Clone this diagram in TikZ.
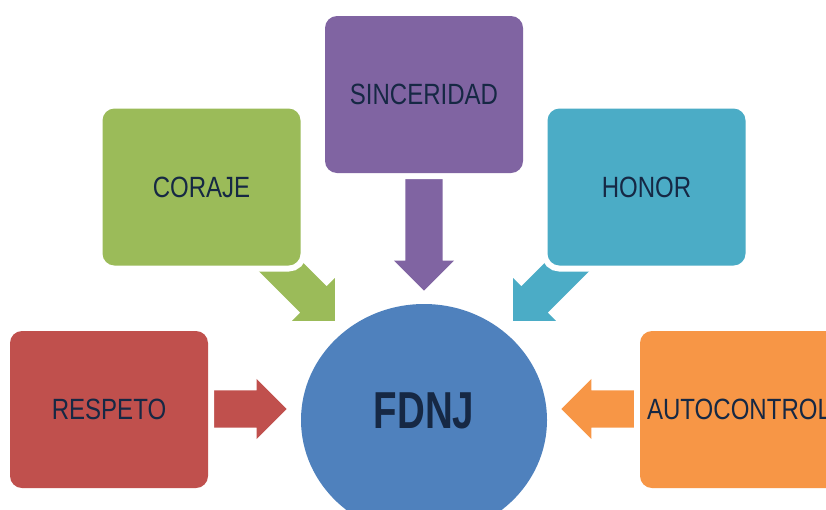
\documentclass[tikz,border=0pt]{standalone}
\usepackage{fontspec}
\setmainfont{Liberation Sans}[FakeStretch=0.82]
\newfontfamily\fdnjfont{Liberation Sans}[FakeStretch=0.74]
\usetikzlibrary{shapes.geometric, shapes.arrows}

\definecolor{rojo}{HTML}{C0504D}
\definecolor{verde}{HTML}{9BBB59}
\definecolor{morado}{HTML}{8064A2}
\definecolor{turquesa}{HTML}{4BACC6}
\definecolor{naranja}{HTML}{F79646}
\definecolor{azul}{HTML}{4F81BD}
\definecolor{tinta}{RGB}{22,40,68}

\tikzset{
    valor/.style={rectangle, rounded corners=12pt, minimum width=198pt, minimum height=157pt,
        fill=#1, preaction={draw=white, line width=12pt}, text=tinta,
        font=\fontsize{29.3}{35}\selectfont},
    flecha/.style={single arrow, fill=#1, inner sep=18.5pt, single arrow head extend=11.5pt,
        anchor=tip}
}

\begin{document}
\begin{tikzpicture}[x=1pt, y=-1pt]

    \clip (0,0) rectangle (826,509);

    % flechas hacia el centro
    \node (fresp) [flecha=rojo, minimum height=87] at (287,409) {};
    \node (fauto) [flecha=naranja, minimum height=87, rotate=180] at (561,409) {};
    \node (fsinc) [flecha=morado, minimum height=126, rotate=-90] at (424,291) {};
    \node (fcor) [flecha=verde, minimum height=113, rotate=-45] at (335,321) {};
    \node (fhon) [flecha=turquesa, minimum height=113, rotate=-135] at (513,321) {};

    % valores
    \node (resp) [valor=rojo] at (109,409.5) {RESPETO};
    \node (cor) [valor=verde] at (201.5,187) {CORAJE};
    \node (sinc) [valor=morado] at (424,94.5) {SINCERIDAD};
    \node (hon) [valor=turquesa] at (646.5,187) {HONOR};
    \node (auto) [valor=naranja] at (739,409.5) {AUTOCONTROL};

    \node (fdnj) [ellipse, fill=azul, minimum width=246pt, minimum height=232pt, inner sep=0pt, text=tinta,
        font=\fdnjfont\bfseries\fontsize{52}{60}\selectfont] at (424,420) {\raisebox{18pt}{FDNJ}};

\end{tikzpicture}
\end{document}
